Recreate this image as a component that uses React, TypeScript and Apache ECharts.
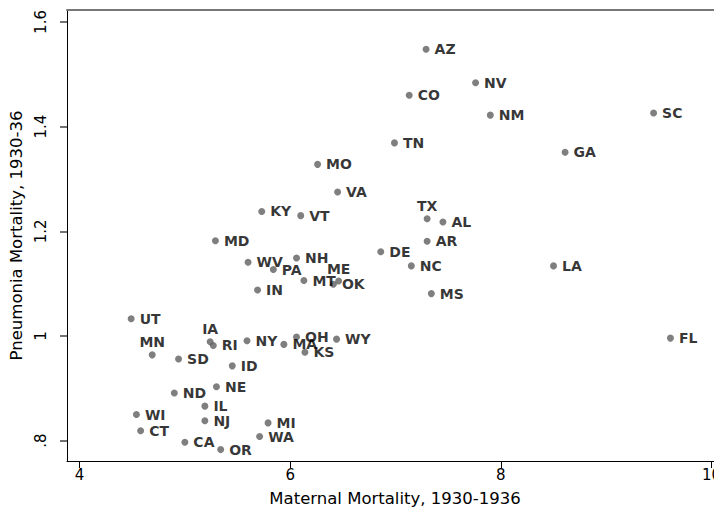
import React, { useEffect, useRef } from 'react';
import * as echarts from 'echarts';

const states = ['AZ','NV','CO','NM','SC','TN','GA','MO','VA','KY','VT','TX','AL','MD','AR','DE','WV','NH','PA','NC','LA','MT','ME','OK','IN','MS','UT','IA','RI','NY','MA','OH','KS','WY','FL','MN','SD','ID','NE','ND','IL','WI','NJ','MI','CT','WA','CA','OR'];
const maternal = [7.29,7.76,7.13,7.90,9.45,6.99,8.61,6.26,6.45,5.73,6.10,7.30,7.45,5.29,7.30,6.86,5.60,6.06,5.84,7.15,8.50,6.13,6.46,6.41,5.69,7.34,4.49,5.24,5.27,5.59,5.94,6.06,6.14,6.44,9.61,4.69,4.94,5.45,5.30,4.90,5.19,4.54,5.19,5.79,4.58,5.71,5.00,5.34];
const pneumonia = [1.548,1.484,1.460,1.422,1.426,1.369,1.351,1.328,1.275,1.238,1.230,1.224,1.218,1.182,1.181,1.161,1.141,1.149,1.127,1.134,1.134,1.106,1.105,1.099,1.088,1.081,1.033,0.989,0.982,0.991,0.984,0.998,0.969,0.994,0.996,0.964,0.956,0.943,0.903,0.891,0.866,0.850,0.838,0.834,0.819,0.808,0.797,0.783];
const labelAboveStates = ['TX','IA','MN','ME'];

const xTicks = [4, 6, 8, 10];
const yTicks = [0.8, 1, 1.2, 1.4, 1.6];
const yTickLabels = ['.8', '1', '1.2', '1.4', '1.6'];

const xTitle = 'Maternal Mortality, 1930-1936';
const yTitle = 'Pneumonia Mortality, 1930-36';

const FONT = 'DejaVu Sans';

export default function App() {
  const ref = useRef<HTMLDivElement>(null);
  useEffect(() => {
    if (!ref.current) return;
    const chart = echarts.init(ref.current, undefined, { renderer: 'svg' });
    const data = states.map((s, i) => ({
      name: s,
      value: [maternal[i], pneumonia[i]],
      label: labelAboveStates.includes(s) ? { position: 'top', distance: 2 } : undefined,
    }));
    chart.setOption({
      animation: false,
      backgroundColor: '#fff',
      grid: { left: 67, right: -9, top: 10, bottom: 52, containLabel: false, outerBoundsMode: 'none' },
      xAxis: [
        {
          type: 'value',
          position: 'bottom',
          min: 3.881,
          max: 10.109,
          axisLine: { show: true, lineStyle: { color: '#000', width: 1 } },
          axisTick: { show: true, customValues: xTicks, length: 7, lineStyle: { color: '#000' } },
          axisLabel: { customValues: xTicks, fontSize: 15, fontFamily: FONT, color: '#000', margin: 6 },
          splitLine: { show: false },
          name: xTitle,
          nameLocation: 'middle',
          nameGap: 29,
          nameTextStyle: { fontSize: 16.5, fontFamily: FONT, color: '#000' },
        },
        {
          type: 'value',
          position: 'top',
          min: 3.881,
          max: 10.109,
          axisLine: { show: true, lineStyle: { color: '#777', width: 2 } },
          axisTick: { show: false },
          axisLabel: { show: false },
          splitLine: { show: false },
        },
      ],
      yAxis: {
        type: 'value',
        min: 0.7612,
        max: 1.6229,
        axisLine: { show: true, lineStyle: { color: '#000', width: 1 } },
        axisTick: { show: true, customValues: yTicks, length: 7, lineStyle: { color: '#444', width: 1.5 } },
        axisLabel: {
          customValues: yTicks,
          rotate: 90,
          fontSize: 15,
          fontFamily: FONT,
          color: '#000',
          margin: 19,
          formatter: (v: number) => {
            const idx = yTicks.findIndex((t) => Math.abs(t - v) < 1e-6);
            return idx >= 0 ? yTickLabels[idx] : '';
          },
        },
        splitLine: { show: false },
        name: yTitle,
        nameLocation: 'middle',
        nameRotate: 90,
        nameGap: 29,
        nameTextStyle: { fontSize: 16.5, fontFamily: FONT, color: '#000' },
      },
      series: [
        {
          type: 'scatter',
          xAxisIndex: 0,
          symbol: 'circle',
          symbolSize: 7,
          itemStyle: { color: '#5f5f5f' },
          label: {
            show: true,
            position: 'right',
            distance: 5,
            formatter: '{b}',
            color: '#000',
            fontWeight: 'bold',
            fontSize: 14,
            fontFamily: FONT,
          },
          emphasis: { disabled: true },
          data,
        },
      ],
    });
    return () => chart.dispose();
  }, []);
  return (
    <div
      ref={ref}
      style={{ position: 'fixed', left: 0, top: 0, width: 714, height: 513, background: '#fff' }}
    />
  );
}
